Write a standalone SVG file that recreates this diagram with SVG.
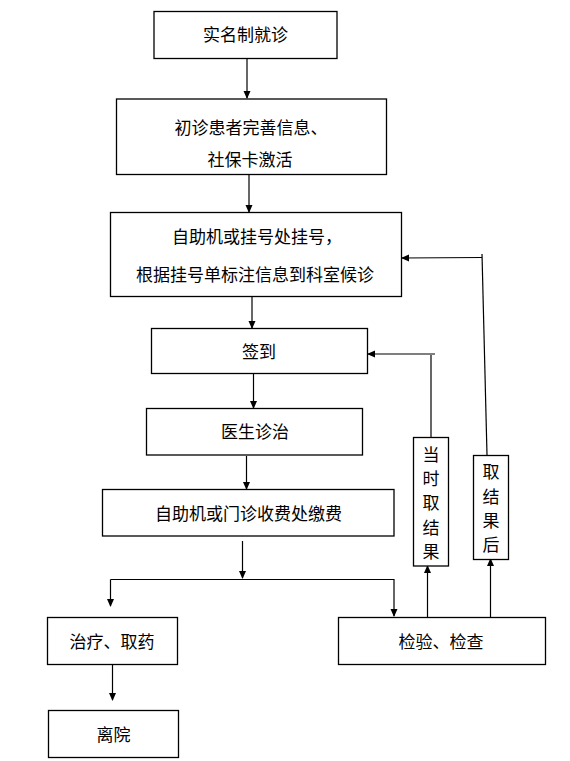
<svg xmlns="http://www.w3.org/2000/svg" width="570" height="761" viewBox="0 0 570 761">
<defs>
<style>
.box{fill:#fff;stroke:#000;stroke-width:1.3}
.t{font-family:"Noto Sans CJK SC","Liberation Sans",sans-serif;font-size:17px;fill:#000;text-anchor:middle}
.c{fill:none;stroke:#000;stroke-width:1.2}
</style>
<marker id="ah" markerWidth="8" markerHeight="8" refX="7" refY="4" orient="auto" markerUnits="userSpaceOnUse">
<path d="M0,0.5 L8,4 L0,7.5 Z" fill="#000"/>
</marker>
</defs>
<rect width="570" height="761" fill="#fff"/>
<g id="connectors">
<line class="c" x1="247" y1="59" x2="247" y2="98" marker-end="url(#ah)"/>
<line class="c" x1="249" y1="175" x2="249" y2="212" marker-end="url(#ah)"/>
<line class="c" x1="252" y1="297" x2="252" y2="328" marker-end="url(#ah)"/>
<line class="c" x1="253.5" y1="374" x2="253.5" y2="408" marker-end="url(#ah)"/>
<line class="c" x1="246.5" y1="456" x2="246.5" y2="489" marker-end="url(#ah)"/>
<line class="c" x1="242.5" y1="541" x2="242.5" y2="578" marker-end="url(#ah)"/>
<polyline class="c" points="110.5,579.5 394,579.5 394,616" marker-end="url(#ah)"/>
<line class="c" x1="110.5" y1="579.5" x2="110.5" y2="606" marker-end="url(#ah)"/>
<line class="c" x1="112.5" y1="665" x2="112.5" y2="700" marker-end="url(#ah)"/>
<line class="c" x1="427.5" y1="617" x2="427.5" y2="566" marker-end="url(#ah)"/>
<line class="c" x1="490.5" y1="617" x2="490.5" y2="559" marker-end="url(#ah)"/>
<line class="c" x1="431" y1="437" x2="431" y2="355"/>
<line class="c" x1="435" y1="354" x2="368" y2="354" marker-end="url(#ah)"/>
<line class="c" x1="487" y1="455" x2="482" y2="254"/>
<line class="c" x1="482" y1="257.5" x2="402" y2="258" marker-end="url(#ah)"/>
</g>
<g id="n1"><rect class="box" x="154" y="11.5" width="183" height="47"/><text class="t" x="245.5" y="41">实名制就诊</text></g>
<g id="n2"><rect class="box" x="116.5" y="99" width="270" height="75.5"/><text class="t" x="251" y="134">初诊患者完善信息、</text><text class="t" x="250" y="166">社保卡激活</text></g>
<g id="n3"><rect class="box" x="110.5" y="212.5" width="291" height="84"/><text class="t" x="257" y="243">自助机或挂号处挂号，</text><text class="t" x="255" y="281">根据挂号单标注信息到科室候诊</text></g>
<g id="n4"><rect class="box" x="151.5" y="328.5" width="216" height="45"/><text class="t" x="259" y="358">签到</text></g>
<g id="n5"><rect class="box" x="146.5" y="408.5" width="216" height="46.5"/><text class="t" x="255" y="438">医生诊治</text></g>
<g id="n6"><rect class="box" x="102.5" y="489.5" width="291.5" height="46.5"/><text class="t" x="248.5" y="520">自助机或门诊收费处缴费</text></g>
<g id="n7"><rect class="box" x="47.5" y="617.5" width="130" height="47"/><text class="t" x="112" y="648">治疗、取药</text></g>
<g id="n8"><rect class="box" x="48.5" y="710.5" width="130" height="47"/><text class="t" x="113.5" y="741">离院</text></g>
<g id="n9"><rect class="box" x="338.5" y="617.5" width="207" height="47"/><text class="t" x="441" y="648">检验、检查</text></g>
<g id="n10"><rect class="box" x="413.5" y="437.5" width="35" height="128.5"/>
<text class="t" x="431" y="461">当</text><text class="t" x="431" y="485">时</text><text class="t" x="431" y="509">取</text><text class="t" x="431" y="533.5">结</text><text class="t" x="431" y="557.5">果</text></g>
<g id="n11"><rect class="box" x="473.5" y="455.5" width="35" height="104"/>
<text class="t" x="491" y="478">取</text><text class="t" x="491" y="502.5">结</text><text class="t" x="491" y="526.5">果</text><text class="t" x="491" y="551">后</text></g>
</svg>
